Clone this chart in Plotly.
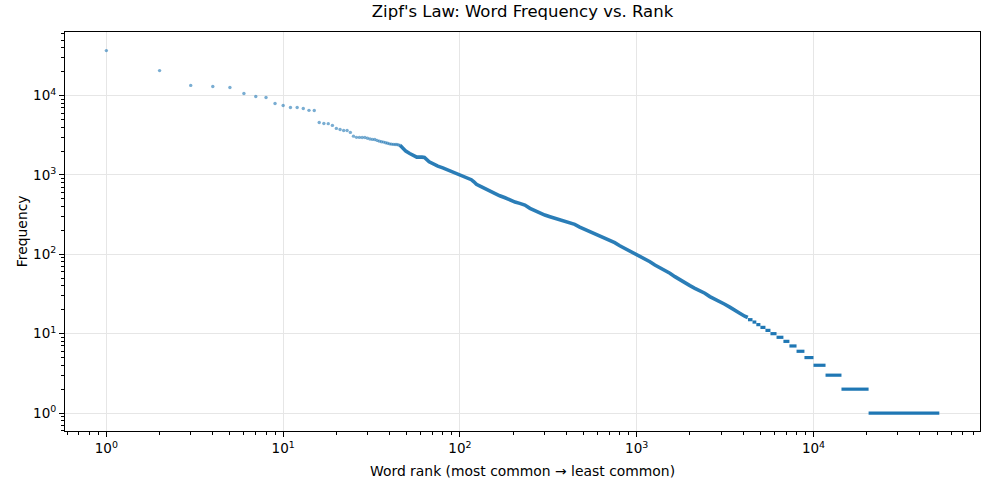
import plotly.graph_objects as go

# ---- data ----
# individual top-ranked words (rank -> frequency)
head_ranks = list(range(1, 47))
head_freqs = [36800, 20600, 13400, 13000, 12600, 10600, 9700, 9440, 7930, 7480,
              7060, 7060, 6860, 6500, 6480, 4570, 4450, 4420, 4200, 3850,
              3735, 3630, 3620, 3430, 3076, 2970, 2965, 2960, 2955, 2900,
              2830, 2800, 2790, 2720, 2660, 2620, 2590, 2540, 2500, 2460,
              2440, 2425, 2420, 2410, 2380, 2350]

# dense middle part of the curve (rank, frequency) read along the band
mid_ranks = [46, 47.7, 49.4, 52, 54.4, 57, 61, 63, 67, 70.5, 75, 80, 86, 91.5, 98,
             104, 111, 116, 120, 124, 130, 138, 148, 158, 168, 180, 192, 205, 218,
             233, 249, 265, 283, 302, 323, 344, 367, 392, 418, 446, 476, 508, 543,
             579, 618, 660, 704, 751, 802, 855, 914, 975, 1042, 1112, 1188, 1267,
             1352, 1443, 1541, 1644, 1754, 1872, 2000, 2133, 2276, 2429, 2592,
             2766, 2951, 3149, 3361, 3587, 3828, 4085, 4250]
mid_freqs = [2350, 2150, 1990, 1860, 1775, 1675, 1675, 1660, 1462, 1367, 1291, 1228,
             1148, 1074, 1014, 966, 920, 870, 818, 762, 723, 676, 625, 574, 546, 515,
             482, 455, 438, 417, 379, 353, 333, 312, 297, 284, 270, 260, 250, 238,
             220, 206, 192, 180, 170, 162, 151, 140, 128, 119, 111, 103, 95, 87,
             80.7, 73.3, 67.9, 61.7, 57.7, 52.3, 47.5, 43.2, 40.3, 37.3, 34.8, 32.3,
             29.3, 27.4, 25.4, 23.5, 21.6, 19.5, 18.1, 16.6, 16]

# tail plateaus: integer frequency and the rank span it occupies
plateau_freq = [15, 14, 13, 12, 11, 10, 9, 8, 7, 6, 5, 4, 3, 2, 1]
plateau_start = [4260, 4520, 4750, 5010, 5350, 5710, 6180, 6760, 7310, 8020,
                 8890, 10000, 11700, 14400, 20500]
plateau_end = [4520, 4750, 5010, 5350, 5710, 6180, 6760, 7310, 8020, 8890,
               10000, 11700, 14400, 20500, 51500]

# tick labels
major_vals = [1, 10, 100, 1000, 10000]
major_text = ["10<sup>0</sup>", "10<sup>1</sup>", "10<sup>2</sup>",
              "10<sup>3</sup>", "10<sup>4</sup>"]

COLOR = "#1f77b4"
FONT = "DejaVu Sans"

fig = go.Figure()

# plateau segments
px, py = [], []
for f, s, e in zip(plateau_freq, plateau_start, plateau_end):
    px += [s, e, None]
    py += [f, f, None]

fig.add_trace(go.Scatter(x=mid_ranks, y=mid_freqs, mode="lines",
                         line=dict(color=COLOR, width=3.6),
                         opacity=0.95, hoverinfo="skip", showlegend=False))
fig.add_trace(go.Scatter(x=px, y=py, mode="lines",
                         line=dict(color=COLOR, width=3.2),
                         hoverinfo="skip", showlegend=False))
fig.add_trace(go.Scatter(x=head_ranks, y=head_freqs, mode="markers",
                         marker=dict(color=COLOR, size=3.4, opacity=0.6,
                                     line=dict(width=0)),
                         showlegend=False))

def minor_vals(lo, hi):
    out = []
    for d in range(lo, hi):
        for m in range(2, 10):
            out.append(m * 10.0 ** d)
    return out

x_minor = [v for v in minor_vals(-1, 5) if 0.58 <= v <= 87000]
y_minor = [v for v in minor_vals(-1, 5) if 0.59 <= v <= 63000]

axis_common = dict(
    type="log", showline=True, mirror=True, linecolor="black", linewidth=1,
    ticks="outside", ticklen=5, tickwidth=1, tickcolor="black",
    tickvals=major_vals, ticktext=major_text,
    showgrid=True, gridcolor="#e6e6e6", gridwidth=1, zeroline=False,
    tickfont=dict(family=FONT, size=13.5, color="black"),
)

fig.update_xaxes(**axis_common, range=[-0.234, 4.942],
                 minor=dict(ticks="outside", ticklen=3, tickwidth=0.8,
                            tickcolor="black", tickvals=x_minor, showgrid=False))
fig.update_yaxes(**axis_common, range=[-0.226, 4.800],
                 minor=dict(ticks="outside", ticklen=3, tickwidth=0.8,
                            tickcolor="black", tickvals=y_minor, showgrid=False))

fig.update_layout(
    width=989, height=489,
    margin=dict(l=65, r=9, t=32, b=58),
    paper_bgcolor="white", plot_bgcolor="white",
    font=dict(family=FONT, color="black"),
    hovermode=False,
    title=dict(text="Zipf's Law: Word Frequency vs. Rank",
               font=dict(family=FONT, size=16.5, color="black"),
               x=0.5, xref="paper", xanchor="center",
               y=1 - 11.5 / 489, yref="container", yanchor="middle"),
    annotations=[
        dict(text="Word rank (most common → least common)", xref="paper", yref="paper",
             x=0.5, y=-0.0994, xanchor="center", yanchor="middle", showarrow=False,
             font=dict(family=FONT, size=13.9, color="black")),
        dict(text="Frequency", xref="paper", yref="paper", textangle=-90,
             x=-0.0473, y=0.5, xanchor="center", yanchor="middle", showarrow=False,
             font=dict(family=FONT, size=13.9, color="black")),
    ],
)

fig.write_html("out.html", config={"displayModeBar": False},
               post_script="document.body.style.margin='0';")
